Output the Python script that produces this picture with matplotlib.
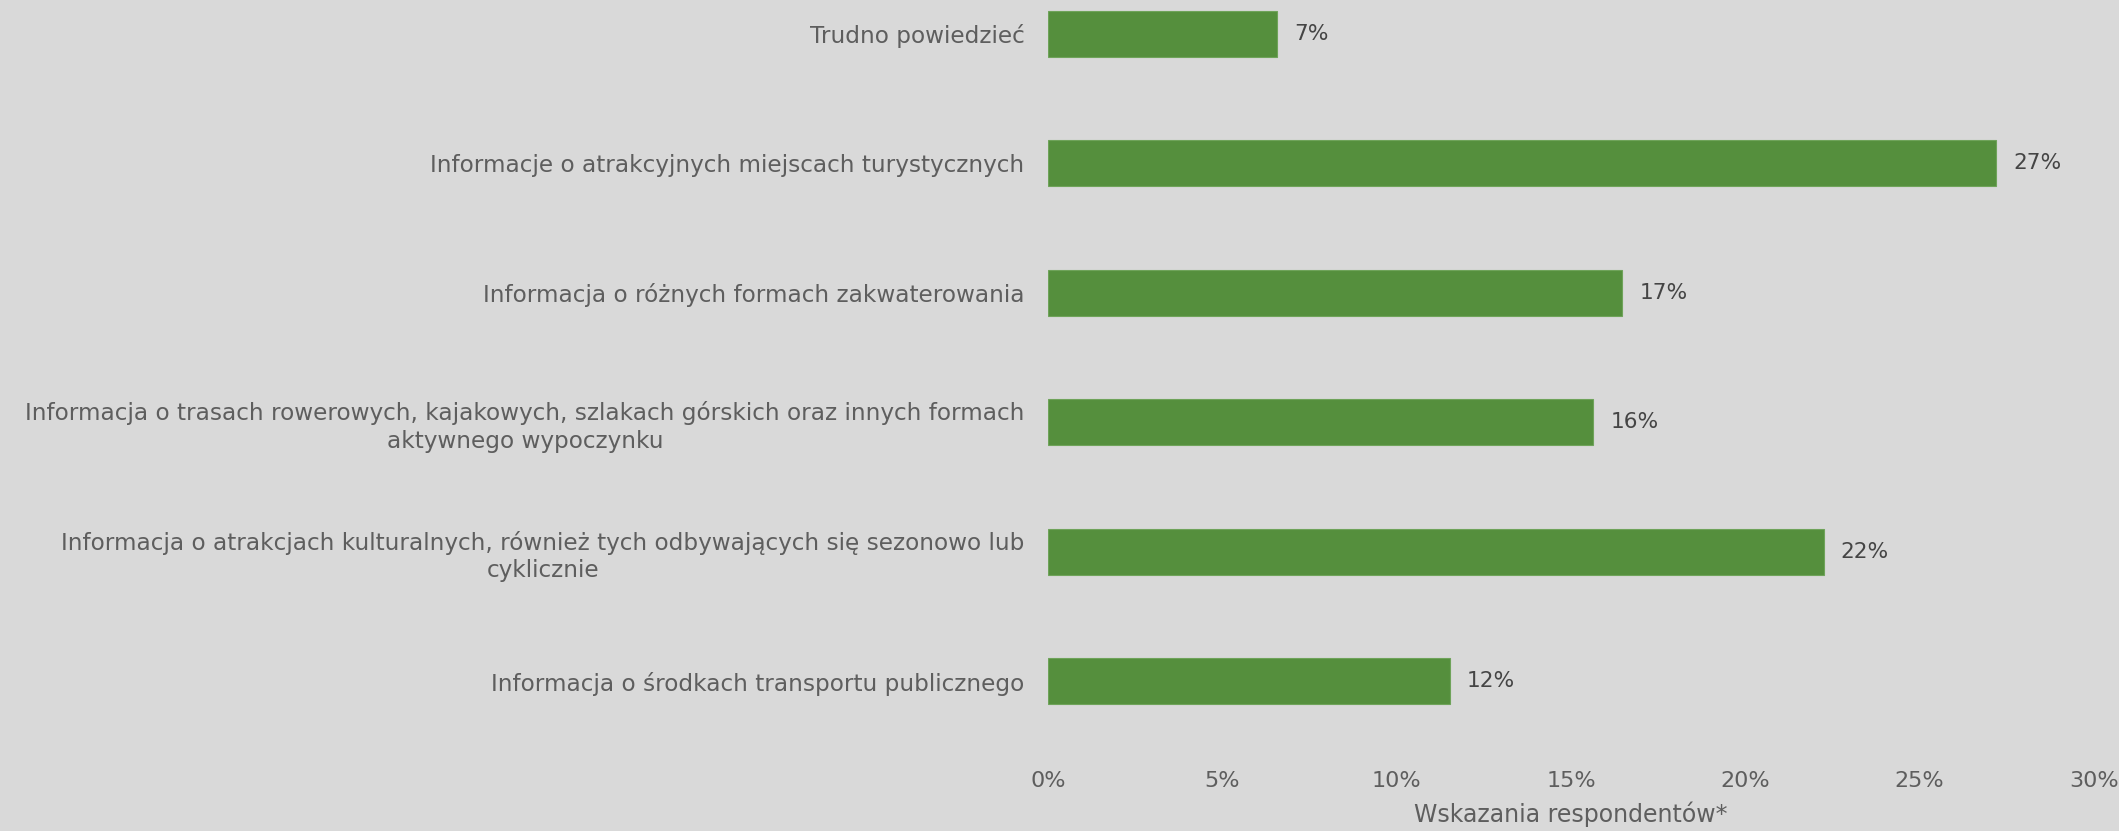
import matplotlib
matplotlib.use("Agg")
import matplotlib.pyplot as plt
from matplotlib.ticker import FuncFormatter, MultipleLocator

categories = [
    "Informacja o środkach transportu publicznego",
    "Informacja o atrakcjach kulturalnych, również tych odbywających się sezonowo lub\ncyklicznie",
    "Informacja o trasach rowerowych, kajakowych, szlakach górskich oraz innych formach\naktywnego wypoczynku",
    "Informacja o różnych formach zakwaterowania",
    "Informacje o atrakcyjnych miejscach turystycznych",
    "Trudno powiedzieć",
]
values = [11.53, 22.25, 15.64, 16.47, 27.2, 6.57]
value_labels = ["12%", "22%", "16%", "17%", "27%", "7%"]
xlabel = "Wskazania respondentów*"

BG = "#D9D9D9"
BAR = "#558F3D"
TXT = "#5E5E5E"
DARK = "#454545"

plt.rcParams['font.family'] = ['DejaVu Sans']

fig = plt.figure(figsize=(21.19, 8.31), dpi=100, facecolor=BG)
ax = fig.add_axes([0.4946, 0.1025, 0.4936, 0.935])
ax.set_facecolor(BG)

y = list(range(len(categories)))
ax.barh(y, values, height=0.355, color=BAR, edgecolor="#6FA35A", linewidth=0.8)
for yi, v, lab in zip(y, values, value_labels):
    ax.annotate(lab, (v, yi), xytext=(17, 0), textcoords="offset pixels",
                va="center", ha="left", fontsize=15.6, color=DARK)

ax.set_ylim(-0.5, 5.5)
ax.set_xlim(0, 30)
ax.xaxis.set_major_locator(MultipleLocator(5))
ax.xaxis.set_major_formatter(FuncFormatter(lambda x, p: f"{x:.0f}%"))
ax.set_yticks(y)
ax.set_yticklabels(categories, fontsize=16.7, color=TXT)
for lbl in ax.get_yticklabels():
    lbl.set_horizontalalignment("right")
    lbl.set_multialignment("center")
    lbl.set_linespacing(1.25)
ax.tick_params(axis="y", length=0, pad=17)
ax.tick_params(axis="x", length=0, pad=18, labelsize=16, labelcolor=TXT)
ax.set_xlabel(xlabel, fontsize=17, color=TXT, labelpad=8)
for s in ax.spines.values():
    s.set_visible(False)

fig.savefig("out.png", dpi=100, facecolor=BG)
